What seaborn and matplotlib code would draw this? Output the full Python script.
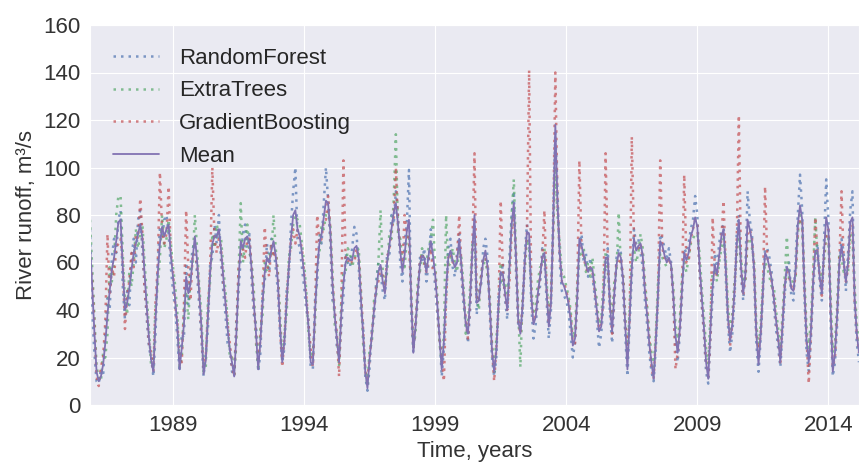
import pandas as pd
import matplotlib
matplotlib.use("Agg")
import matplotlib.pyplot as plt
import seaborn as sns

# monthly river runoff, m3/s, from Nov 1985 to Mar 2015 (one row per year)
start_month = "1985-11"

random_forest = [
    74, 40,
    22, 10, 9, 15, 12, 30, 45, 40, 62, 70, 64, 78,
    82, 50, 36, 48, 42, 62, 70, 60, 78, 82, 64, 50,
    36, 24, 20, 12, 30, 60, 74, 70, 78, 80, 72, 58,
    48, 40, 28, 14, 30, 28, 60, 42, 58, 66, 68, 55,
    42, 28, 12, 22, 32, 60, 62, 76, 68, 80, 60, 48,
    38, 26, 24, 14, 12, 36, 48, 62, 72, 76, 66, 72,
    52, 38, 34, 14, 22, 48, 52, 68, 56, 70, 66, 58,
    48, 30, 18, 24, 48, 54, 76, 90, 100, 70, 66, 58,
    50, 40, 36, 16, 15, 44, 52, 72, 68, 85, 100, 86,
    68, 44, 40, 24, 20, 32, 46, 64, 60, 58, 66, 75,
    72, 58, 40, 34, 12, 6, 16, 32, 36, 52, 60, 56,
    48, 44, 64, 62, 80, 76, 90, 80, 60, 52, 68, 76,
    99, 40, 22, 36, 42, 62, 60, 66, 52, 60, 74, 60,
    50, 38, 30, 12, 24, 44, 66, 70, 58, 54, 64, 72,
    54, 42, 36, 26, 40, 62, 78, 38, 48, 50, 66, 70,
    62, 38, 20, 12, 20, 46, 52, 60, 44, 36, 62, 80,
    90, 56, 34, 32, 38, 64, 76, 70, 42, 28, 34, 44,
    50, 66, 62, 44, 28, 40, 80, 115, 90, 60, 48, 46,
    44, 40, 30, 20, 26, 42, 66, 72, 60, 64, 54, 62,
    54, 46, 36, 24, 30, 42, 58, 66, 38, 26, 44, 62,
    66, 64, 48, 30, 12, 34, 54, 74, 68, 70, 64, 58,
    44, 34, 22, 14, 10, 24, 44, 72, 70, 66, 62, 66,
    60, 44, 26, 18, 30, 46, 66, 64, 68, 74, 78, 88,
    80, 56, 42, 30, 14, 9, 28, 46, 64, 58, 68, 74,
    76, 54, 34, 22, 30, 44, 72, 80, 54, 44, 58, 90,
    78, 72, 54, 26, 14, 28, 46, 66, 66, 62, 56, 42,
    32, 24, 16, 30, 46, 60, 60, 46, 44, 62, 80, 97,
    82, 46, 22, 14, 28, 48, 62, 68, 52, 44, 70, 95,
    78, 36, 12, 18, 34, 58, 70, 64, 48, 64, 82, 90,
    42, 26, 18,
]

extra_trees = [
    78, 58,
    38, 16, 12, 10, 22, 20, 30, 58, 52, 60, 80, 88,
    88, 64, 44, 38, 56, 50, 60, 74, 66, 72, 76, 60,
    46, 32, 16, 16, 42, 50, 62, 80, 66, 70, 78, 68,
    58, 50, 38, 16, 20, 40, 48, 36, 55, 60, 80, 66,
    50, 38, 14, 16, 44, 52, 72, 66, 76, 72, 70, 58,
    48, 36, 20, 20, 13, 26, 56, 85, 60, 68, 76, 64,
    60, 48, 26, 16, 32, 38, 60, 56, 64, 62, 80, 66,
    56, 38, 20, 30, 38, 62, 66, 76, 80, 78, 76, 68,
    60, 48, 30, 20, 22, 34, 60, 64, 76, 74, 80, 82,
    76, 56, 34, 30, 16, 44, 56, 56, 66, 64, 58, 62,
    64, 66, 48, 26, 16, 8, 24, 26, 44, 46, 60, 82,
    56, 50, 56, 72, 70, 86, 114, 72, 70, 60, 58, 70,
    72, 48, 24, 30, 52, 56, 66, 58, 60, 66, 70, 78,
    58, 46, 26, 18, 30, 80, 58, 60, 66, 60, 56, 66,
    62, 50, 30, 34, 50, 68, 72, 46, 40, 56, 58, 62,
    54, 46, 26, 14, 28, 38, 60, 50, 52, 44, 56, 80,
    95, 64, 40, 16, 46, 56, 70, 66, 50, 38, 42, 52,
    58, 58, 66, 52, 38, 46, 72, 100, 80, 68, 56, 54,
    50, 46, 40, 28, 32, 50, 64, 62, 66, 56, 60, 54,
    62, 52, 44, 34, 36, 52, 64, 56, 46, 36, 52, 56,
    81, 58, 56, 38, 20, 40, 62, 66, 60, 64, 72, 66,
    52, 42, 30, 22, 16, 30, 52, 64, 62, 60, 58, 58,
    58, 50, 34, 26, 36, 54, 60, 56, 62, 68, 70, 72,
    72, 64, 50, 38, 24, 17, 38, 56, 56, 52, 60, 66,
    70, 62, 42, 32, 38, 52, 62, 74, 62, 52, 52, 70,
    70, 66, 60, 34, 24, 34, 52, 60, 58, 54, 50, 50,
    40, 32, 24, 38, 54, 71, 52, 52, 52, 54, 72, 80,
    74, 54, 32, 24, 36, 56, 79, 62, 58, 52, 60, 72,
    70, 46, 22, 26, 42, 64, 62, 56, 56, 56, 72, 70,
    50, 34, 26,
]

gradient_boosting = [
    62, 52,
    34, 12, 8, 16, 20, 35, 72, 46, 58, 54, 66, 68,
    70, 60, 32, 46, 52, 64, 58, 72, 70, 87, 72, 48,
    40, 26, 22, 14, 44, 58, 98, 74, 68, 72, 92, 64,
    56, 42, 34, 20, 18, 42, 82, 58, 44, 64, 62, 60,
    48, 30, 16, 20, 40, 58, 100, 70, 64, 70, 66, 52,
    44, 34, 26, 16, 12, 32, 58, 64, 66, 62, 70, 70,
    58, 42, 30, 18, 28, 46, 75, 60, 54, 68, 62, 64,
    54, 32, 16, 28, 46, 58, 70, 74, 68, 74, 70, 66,
    56, 46, 34, 24, 16, 40, 80, 68, 70, 78, 78, 88,
    74, 52, 40, 30, 12, 40, 103, 62, 60, 62, 60, 60,
    66, 62, 48, 32, 14, 11, 20, 30, 40, 50, 52, 58,
    54, 48, 62, 66, 74, 78, 100, 76, 66, 58, 80, 72,
    70, 46, 24, 34, 48, 60, 64, 60, 56, 62, 66, 56,
    56, 42, 28, 20, 10, 45, 62, 64, 60, 62, 62, 80,
    58, 46, 36, 28, 44, 66, 106, 44, 44, 54, 62, 62,
    58, 42, 24, 10, 24, 42, 86, 56, 46, 40, 52, 72,
    80, 64, 36, 30, 42, 60, 72, 141, 46, 35, 38, 46,
    54, 62, 82, 50, 34, 44, 74, 140, 85, 64, 52, 52,
    48, 44, 38, 26, 26, 46, 103, 66, 62, 58, 56, 58,
    56, 48, 40, 32, 34, 44, 106, 62, 42, 30, 48, 60,
    60, 62, 54, 34, 24, 36, 113, 70, 66, 66, 68, 62,
    50, 40, 28, 16, 11, 28, 46, 103, 66, 62, 60, 62,
    58, 46, 15, 22, 32, 50, 97, 60, 60, 70, 74, 78,
    76, 58, 44, 32, 18, 12, 30, 79, 58, 54, 62, 70,
    86, 58, 38, 25, 34, 48, 67, 122, 58, 46, 54, 72,
    74, 70, 58, 30, 22, 30, 48, 92, 62, 58, 52, 46,
    36, 28, 18, 34, 50, 56, 54, 50, 48, 55, 74, 78,
    78, 50, 28, 9, 30, 52, 79, 64, 54, 46, 64, 72,
    74, 40, 16, 20, 38, 60, 90, 60, 52, 58, 76, 76,
    44, 30, 22,
]

mean_runoff = [
    68, 50,
    31, 14, 10, 12, 17, 26, 38, 48, 57, 62, 69, 77,
    78, 58, 40, 43, 49, 57, 64, 68, 72, 76, 70, 55,
    41, 28, 19, 14, 36, 55, 68, 75, 71, 74, 76, 63,
    54, 44, 33, 15, 24, 34, 54, 47, 51, 62, 71, 61,
    47, 33, 13, 19, 38, 56, 68, 71, 71, 74, 65, 54,
    43, 32, 23, 18, 12, 30, 52, 69, 66, 70, 71, 68,
    57, 43, 30, 15, 27, 43, 56, 62, 60, 65, 69, 63,
    52, 33, 18, 27, 43, 58, 70, 80, 82, 74, 71, 64,
    55, 44, 33, 18, 17, 39, 57, 68, 72, 79, 86, 85,
    73, 51, 38, 28, 18, 38, 51, 60, 62, 61, 61, 66,
    67, 62, 45, 30, 14, 7, 20, 29, 40, 48, 56, 59,
    52, 47, 60, 67, 74, 81, 85, 76, 65, 56, 63, 73,
    78, 45, 22, 33, 47, 59, 63, 62, 56, 63, 69, 63,
    55, 42, 28, 15, 27, 49, 62, 65, 61, 58, 60, 70,
    59, 46, 34, 30, 45, 65, 80, 43, 44, 52, 61, 65,
    58, 42, 23, 14, 23, 42, 56, 55, 47, 40, 58, 76,
    85, 62, 36, 30, 42, 60, 73, 72, 46, 34, 37, 47,
    54, 62, 64, 48, 33, 43, 75, 118, 85, 64, 52, 50,
    47, 43, 36, 25, 28, 45, 70, 67, 63, 59, 56, 58,
    57, 49, 40, 31, 33, 46, 62, 62, 42, 31, 47, 59,
    64, 62, 53, 34, 15, 37, 58, 70, 65, 67, 68, 63,
    48, 38, 26, 18, 11, 27, 47, 69, 67, 63, 60, 62,
    59, 46, 29, 22, 32, 49, 64, 61, 64, 71, 74, 79,
    75, 59, 46, 33, 18, 11, 32, 50, 59, 55, 63, 71,
    74, 58, 37, 27, 34, 48, 67, 78, 58, 47, 55, 78,
    74, 69, 57, 30, 17, 30, 48, 64, 62, 58, 53, 45,
    36, 28, 18, 34, 50, 58, 56, 49, 48, 57, 76, 84,
    78, 50, 27, 18, 31, 52, 65, 65, 54, 47, 65, 79,
    74, 40, 14, 22, 38, 60, 67, 60, 52, 60, 77, 79,
    45, 30, 22,
]

year_ticks = [1989, 1994, 1999, 2004, 2009, 2014]
runoff_ticks = [0, 20, 40, 60, 80, 100, 120, 140, 160]

# time axis in decimal years
months = pd.period_range(start_month, periods=len(mean_runoff), freq="M")
df = pd.DataFrame({
    "t": months.year + (months.month - 1) / 12.0,
    "RandomForest": random_forest,
    "ExtraTrees": extra_trees,
    "GradientBoosting": gradient_boosting,
    "Mean": mean_runoff,
})

sns.set_style("darkgrid")
plt.rcParams["font.family"] = ["Liberation Sans", "DejaVu Sans"]

fig = plt.figure(figsize=(8.59, 4.68), dpi=100)
ax = fig.add_axes([90 / 859, 63 / 468, 769 / 859, 380 / 468])

colors = {"RandomForest": "#4C72B0", "ExtraTrees": "#55A868",
          "GradientBoosting": "#C44E52", "Mean": "#8172B2"}

for name in ["RandomForest", "ExtraTrees", "GradientBoosting"]:
    sns.lineplot(data=df, x="t", y=name, ax=ax, color=colors[name],
                 linestyle=(0, (1, 2)), linewidth=1.8, alpha=0.7, label=name)
sns.lineplot(data=df, x="t", y="Mean", ax=ax, color=colors["Mean"],
             linewidth=1.3, label="Mean")

ax.set_xlim(df["t"].iloc[0], df["t"].iloc[-1])
ax.set_ylim(0, 160)
ax.set_xticks(year_ticks)
ax.set_xticklabels([str(y) for y in year_ticks])
ax.set_yticks(runoff_ticks)
ax.tick_params(labelsize=16, colors="#333333")

ax.set_xlabel("Time, years", fontsize=16, color="#333333")
ax.set_ylabel("River runoff, m\u00b3/s", fontsize=16, color="#333333")

ax.legend(loc="upper left", frameon=False, fontsize=16, handlelength=2.1,
          handletextpad=0.9, labelspacing=0.53, borderaxespad=0.62)

fig.savefig("out.png", dpi=100)
